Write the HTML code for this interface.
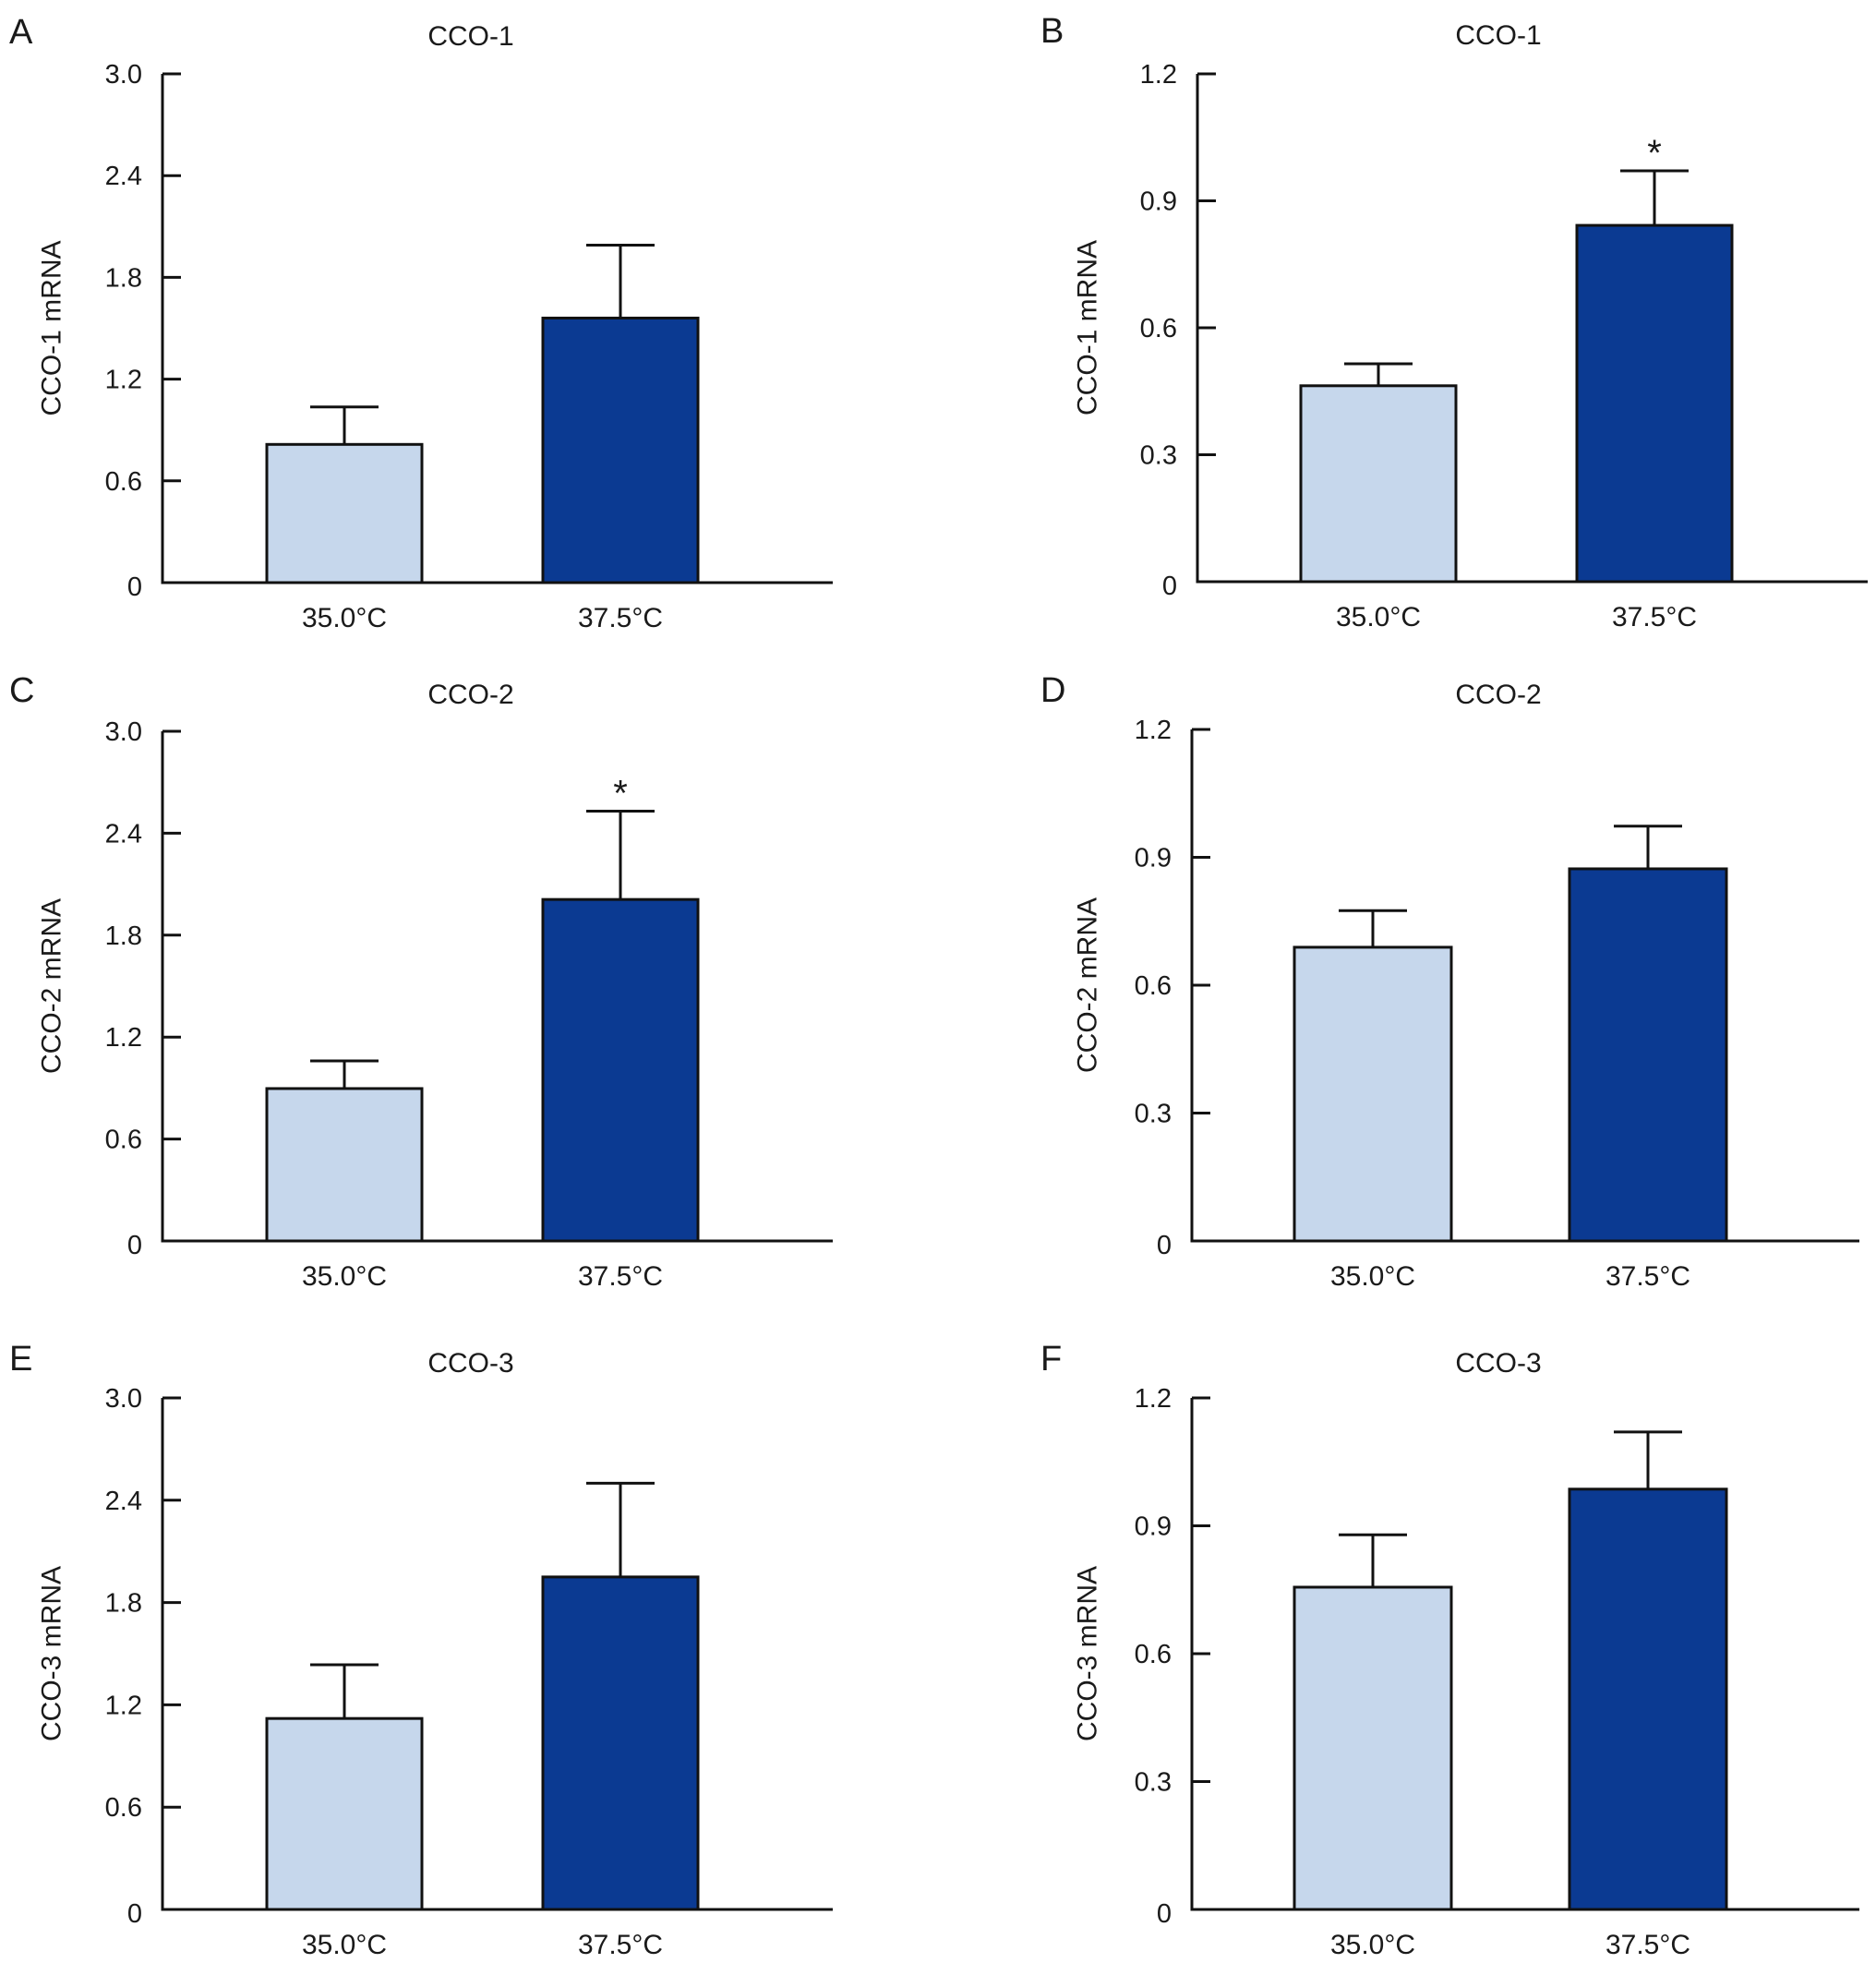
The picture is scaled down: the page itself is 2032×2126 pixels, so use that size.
<!DOCTYPE html>
<html><head><meta charset="utf-8"><style>
body{margin:0;background:#fff}
svg text{font-family:"Liberation Sans",sans-serif;fill:#1a1a1a}
</style></head><body>
<svg id="fig" width="2032" height="2121" viewBox="0 0 2032 2121" xmlns="http://www.w3.org/2000/svg"></svg>
<script>
const categories = ["35.0°C","37.5°C"];
const panelLetters = ["A","B","C","D","E","F"];
const panelTitles = ["CCO-1","CCO-1","CCO-2","CCO-2","CCO-3","CCO-3"];
const yLabels = ["CCO-1 mRNA","CCO-1 mRNA","CCO-2 mRNA","CCO-2 mRNA","CCO-3 mRNA","CCO-3 mRNA"];
const yMax = [3.0,1.2,3.0,1.2,3.0,1.2];
const tickLabelsA = ["0","0.6","1.2","1.8","2.4","3.0"];
const tickLabelsB = ["0","0.3","0.6","0.9","1.2"];
const means = [[0.815,1.56],[0.463,0.842],[0.897,2.01],[0.689,0.873],[1.12,1.95],[0.756,0.986]];
const errTops = [[1.036,1.99],[0.515,0.971],[1.06,2.53],[0.775,0.973],[1.435,2.50],[0.879,1.12]];
const stars = [[false,false],[false,true],[false,true],[false,false],[false,false],[false,false]];

// layout (not data)
const layout = [
 {ax:176,zero:631,top:80,end:902,b0:289,b1:588,bw:168,lx:56,tx:510,px:10},
 {ax:1297,zero:630,top:80,end:2023,b0:1409,b1:1708,bw:168,lx:1178,tx:1623,px:1127},
 {ax:176,zero:1344,top:792,end:902,b0:289,b1:588,bw:168,lx:56,tx:510,px:10},
 {ax:1291,zero:1344,top:790,end:2014,b0:1402,b1:1700,bw:170,lx:1178,tx:1623,px:1127},
 {ax:176,zero:2068,top:1514,end:902,b0:289,b1:588,bw:168,lx:56,tx:510,px:10},
 {ax:1291,zero:2068,top:1514,end:2014,b0:1402,b1:1700,bw:170,lx:1178,tx:1623,px:1127}
];
const colors = ["#c6d7ec","#0b3a92"];
const NS="http://www.w3.org/2000/svg";
const svg=document.getElementById('fig');
function mk(tag,attrs,parent){const e=document.createElementNS(NS,tag);for(const k in attrs)e.setAttribute(k,attrs[k]);(parent||svg).appendChild(e);return e;}

layout.forEach((L,p)=>{
  const g=mk('g',{});
  
  
  const y=v=>L.zero-(v/yMax[p])*(L.zero-L.top);
  const labs = yMax[p]===3.0?tickLabelsA:tickLabelsB;
  const lt=mk('text',{x:L.px,y:L.zero-584,'font-size':38},g);lt.textContent=panelLetters[p];
  
  
  const tt=mk('text',{x:L.tx,y:L.zero-582,'font-size':30,'text-anchor':'middle'},g);tt.textContent=panelTitles[p];
  
  
  const cy=(L.zero+L.top)/2;
  const yl=mk('text',{x:L.lx,y:cy,'font-size':30,'text-anchor':'middle','dominant-baseline':'central',transform:`rotate(-90 ${L.lx} ${cy})`},g);yl.textContent=yLabels[p];
  
  
  [0,1].forEach(i=>{
    const bx=i===0?L.b0:L.b1;
    const cx=bx+L.bw/2;
    const r=mk('rect',{x:bx,y:y(means[p][i]),width:L.bw,height:L.zero-y(means[p][i]),fill:colors[i],stroke:'#111','stroke-width':3},g);
    
    
    const e=mk('path',{d:`M${cx} ${y(means[p][i])}V${y(errTops[p][i])}M${cx-37} ${y(errTops[p][i])}H${cx+37}`,stroke:'#111','stroke-width':3,fill:'none'},g);
    
    
    if(stars[p][i]){const s=mk('text',{x:cx,y:y(errTops[p][i])-6,'font-size':40,'text-anchor':'middle'},g);s.textContent='*';
      
      }
    const xl=mk('text',{x:cx,y:L.zero+48,'font-size':30,'text-anchor':'middle'},g);xl.textContent=categories[i];
    
    
  });
  const ax=mk('path',{d:`M${L.ax} ${L.top}V${L.zero}H${L.end}`,stroke:'#111','stroke-width':3,fill:'none'},g);
  
  
  labs.forEach(t=>{
    const v=parseFloat(t);const ty=y(v);
    if(v>0){const tk=mk('path',{d:`M${L.ax} ${ty}H${L.ax+20}`,stroke:'#111','stroke-width':3},g);
      
      }
    const tl=mk('text',{x:L.ax-22,y:ty+(v===0?14:10),'font-size':29,'text-anchor':'end'},g);tl.textContent=t;
    
    
  });
});
</script>
</body></html>
